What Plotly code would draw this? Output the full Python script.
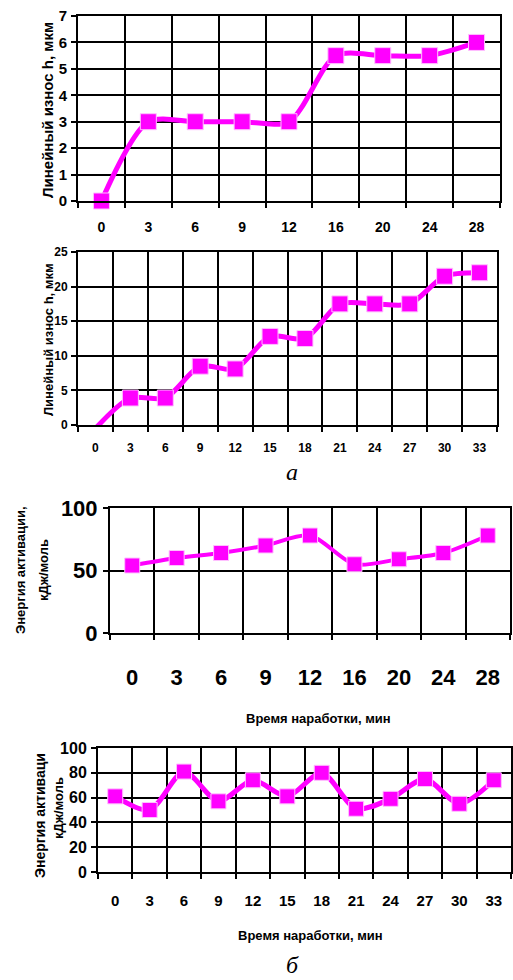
import plotly.graph_objects as go

# ---- data ----
wear1_time = ["0", "3", "6", "9", "12", "16", "20", "24", "28"]
wear1_h = [0, 3, 3, 3, 3, 5.5, 5.5, 5.5, 6]

wear2_time = ["0", "3", "6", "9", "12", "15", "18", "21", "24", "27", "30", "33"]
wear2_h = [-0.5, 3.9, 3.9, 8.5, 8.1, 12.8, 12.5, 17.5, 17.5, 17.5, 21.5, 22]

energy1_time = ["0", "3", "6", "9", "12", "16", "20", "24", "28"]
energy1_e = [54, 60, 64, 70, 78, 55, 59, 64, 78]

energy2_time = ["0", "3", "6", "9", "12", "15", "18", "21", "24", "27", "30", "33"]
energy2_e = [61, 50, 81, 57, 74, 61, 80, 51, 59, 75, 55, 74]

W, H = 513, 980
MAG = "#FF00FF"
SANS = "Liberation Sans, Arial"


def px_x(a, b):
    return [a / W, b / W]


def px_y(top, bottom):
    return [1 - bottom / H, 1 - top / H]


fig = go.Figure()

panels = [
    dict(x=wear1_time, y=wear1_h, ax="", xd=px_x(78, 500), yd=px_y(16, 201), yr=[0, 7], dt=1,
         xf=14, yf=15, xs=12, ms=16, lw=5),
    dict(x=wear2_time, y=wear2_h, ax="2", xd=px_x(78, 497), yd=px_y(252, 425), yr=[0, 25], dt=5,
         xf=12, yf=12, xs=11, ms=16, lw=5),
    dict(x=energy1_time, y=energy1_e, ax="3", xd=px_x(110, 510), yd=px_y(508, 633), yr=[0, 100], dt=50,
         xf=22, yf=22, xs=24, ms=15, lw=4),
    dict(x=energy2_time, y=energy2_e, ax="4", xd=px_x(98, 511), yd=px_y(748, 872), yr=[0, 100], dt=20,
         xf=15, yf=16, xs=14, ms=15, lw=5),
]

layout = dict(
    width=W, height=H, margin=dict(l=0, r=0, t=0, b=0, autoexpand=False),
    paper_bgcolor="white", plot_bgcolor="white", showlegend=False,
    font=dict(family=SANS, color="black"),
)

for p in panels:
    ax = p["ax"]
    fig.add_trace(go.Scatter(
        x=p["x"], y=p["y"], mode="lines+markers",
        xaxis="x" + ax, yaxis="y" + ax,
        line=dict(color=MAG, width=p["lw"], shape="spline", smoothing=0.8),
        marker=dict(symbol="square", size=p["ms"], color=MAG,
                    line=dict(color="#FFC0FF", width=1)),
        cliponaxis=False,
    ))
    n = len(p["x"])
    layout["xaxis" + ax] = dict(
        domain=p["xd"], anchor="y" + ax, type="category",
        range=[-0.5, n - 0.5], tickson="boundaries",
        showgrid=True, gridcolor="black", gridwidth=2,
        showline=True, linecolor="black", linewidth=2, mirror=True,
        ticks="outside", ticklen=5, tickwidth=2, tickcolor="black",
        ticklabelstandoff=p["xs"], automargin=False,
        tickfont=dict(size=p["xf"], family=SANS, weight="bold"),
        zeroline=False,
    )
    layout["yaxis" + ax] = dict(
        domain=p["yd"], anchor="x" + ax, range=p["yr"], dtick=p["dt"],
        showgrid=True, gridcolor="black", gridwidth=2,
        showline=True, linecolor="black", linewidth=2, mirror=True,
        ticks="outside", ticklen=5, tickwidth=2, tickcolor="black",
        ticklabelstandoff=1, automargin=False,
        tickfont=dict(size=p["yf"], family=SANS, weight="bold"),
        zeroline=False,
    )

fig.update_layout(**layout)

ann = []


def text(x, y, t, size, angle=0, fam=SANS, bold=True, italic=False):
    ann.append(dict(x=x / W, y=1 - y / H, xref="paper", yref="paper", text=t,
                    showarrow=False, textangle=angle, xanchor="center", yanchor="middle",
                    font=dict(size=size, family=fam, color="black",
                              weight="bold" if bold else "normal",
                              style="italic" if italic else "normal")))


text(47, 110, "Линейный износ h, мкм", 15, -90)
text(49, 340, "Линейный износ h, мкм", 13, -90)
text(20, 570, "Энергия активации,", 13, -90)
text(43, 570, "кДж/моль", 13, -90)
text(40, 816, "Энергия активаци", 14, -90)
text(58, 808, "кДж/моль", 13, -90)
text(318, 718, "Время наработки, мин", 13, 0)
text(310, 935, "Время наработки, мин", 13, 0)
text(292, 472, "а", 24, 0, fam="Liberation Serif, Times New Roman, serif", bold=False, italic=True)
text(292, 965, "б", 24, 0, fam="Liberation Serif, Times New Roman, serif", bold=False, italic=True)

fig.update_layout(annotations=ann)

fig.write_html(
    "out.html",
    config={"displayModeBar": False},
    post_script="document.body.style.margin='0';document.documentElement.style.overflow='hidden';",
)
